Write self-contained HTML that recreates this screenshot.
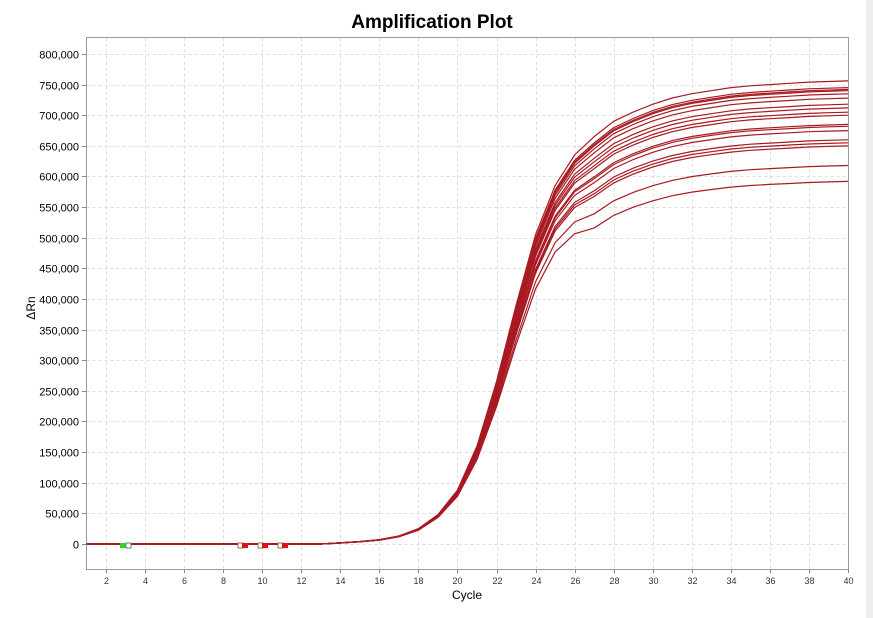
<!DOCTYPE html>
<html><head><meta charset="utf-8"><style>
body{margin:0;background:#fff;}
svg{display:block;font-family:"Liberation Sans",sans-serif;}
</style></head><body>
<svg id="s" width="873" height="618" viewBox="0 0 873 618" xmlns="http://www.w3.org/2000/svg">
<rect width="873" height="618" fill="#fff"/>
<rect x="866" y="0" width="7" height="618" fill="#eeeeee"/>
<text x="432" y="28" text-anchor="middle" font-size="19" font-weight="bold" fill="#000">Amplification Plot</text>
<g id="grid"></g>
<rect x="86.5" y="37.5" width="762" height="532" fill="none" stroke="#999" stroke-width="1"/>
<g id="ylab" font-size="11" fill="#000" text-anchor="end"></g>
<g id="xlab" font-size="9" fill="#333" text-anchor="middle"></g>
<text x="35" y="308" font-size="12" text-anchor="middle" transform="rotate(-90 35 308)">ΔRn</text>
<text x="467" y="599" font-size="12" text-anchor="middle">Cycle</text>
<g id="curves" fill="none" stroke="#a81a22" stroke-width="1.2"></g>
<g>
<rect x="120" y="543" width="6" height="5" fill="#22dd22"/>
<rect x="126" y="543" width="5" height="5" fill="#fff" stroke="#777" stroke-width="1"/>
<rect x="238" y="543" width="5" height="5" fill="#fff" stroke="#777" stroke-width="1"/>
<rect x="242" y="543" width="6" height="5" fill="#e01010"/>
<rect x="258" y="543" width="5" height="5" fill="#fff" stroke="#777" stroke-width="1"/>
<rect x="262" y="543" width="6" height="5" fill="#e01010"/>
<rect x="278" y="543" width="5" height="5" fill="#fff" stroke="#777" stroke-width="1"/>
<rect x="282" y="543" width="6" height="5" fill="#e01010"/>
</g>
</svg>
<script>
var NS="http://www.w3.org/2000/svg";
function X(c){return 86.5+(c-1)*19.526;}
function Y(v){return 544-v/50000*30.63;}
function el(p,t,a,txt){var e=document.createElementNS(NS,t);for(var k in a)e.setAttribute(k,a[k]);if(txt!=null)e.textContent=txt;document.getElementById(p).appendChild(e);}
for(var v=-0;v<=800000;v+=50000){var y=Math.round(Y(v))+0.5;
 el("grid","line",{x1:86.5,x2:848.5,y1:y,y2:y,stroke:"#ddd","stroke-dasharray":"3,3"});
 el("grid","line",{x1:82,x2:86.5,y1:y,y2:y,stroke:"#888"});
 el("ylab","text",{x:79,y:y+4},v==0?"0":v.toLocaleString("en-US"));}
for(var c=2;c<=40;c+=2){var x=Math.round(X(c))+0.5;
 el("grid","line",{x1:x,x2:x,y1:37.5,y2:569.5,stroke:"#ddd","stroke-dasharray":"3,3"});
 el("grid","line",{x1:x,x2:x,y1:569.5,y2:573,stroke:"#888"});
 el("xlab","text",{x:x,y:584},c);}
var base={1:0,13:0,14:2000,15:4000,16:7000,17:13000,18:25000,19:48000,20:88000,21:160000,22:265000,23:390000,24:505000,25:585000,26:635000,27:665000,28:690000,29:705000,30:718000,31:728000,32:735000,33:740000,34:745000,35:748000,36:750000,37:752000,38:754000,39:755000,40:756000};
function B(c){if(c<=13)return 0;var a=Math.floor(c),b=a+1;if(!(a in base))return 0;if(!(b in base))return base[a];return base[a]+(base[b]-base[a])*(c-a);}
var pl=[756,745,742,740,735,728,718,712,705,700,685,682,675,660,655,650,618,592];
pl.forEach(function(p,i){var s=p/756,sh=0.2*i/17,pts=[];
 for(var c=1;c<=40;c++){var v=B(c-sh);var f=c<=19?1:1-(1-s)*Math.min(1,(c-19)/8);v*=f;pts.push(X(c).toFixed(1)+","+Y(v).toFixed(1));}
 el("curves","polyline",{points:pts.join(" ")});});
</script>
</body></html>
